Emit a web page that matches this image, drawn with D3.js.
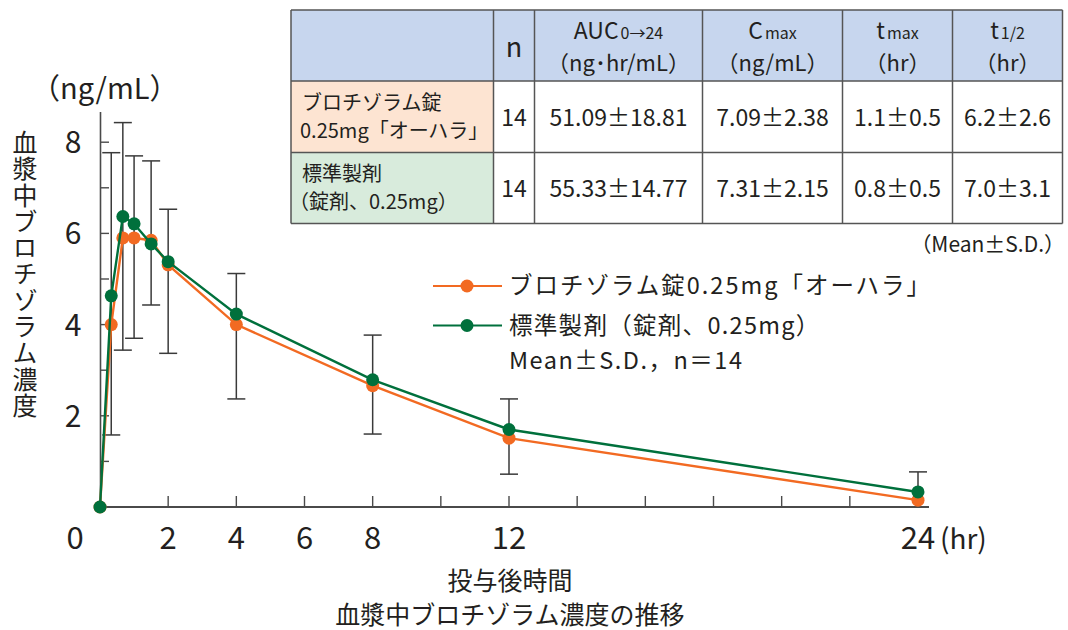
<!DOCTYPE html>
<html>
<head>
<meta charset="utf-8">
<script src="https://cdn.jsdelivr.net/npm/d3@7"></script>
<style>
  body { margin: 0; background: #fff; }
  text { font-family: "Noto Sans CJK JP", "Noto Sans", sans-serif; fill: #231f20; }
</style>
</head>
<body>
<svg id="chart" width="1068" height="630"></svg>
<script>
// sampling times (hr)
const times = [0, 0.33, 0.67, 1, 1.5, 2, 4, 8, 12, 24];
// ブロチゾラム錠0.25mg「オーハラ」
const testMeans = [0, 4.0, 5.9, 5.9, 5.85, 5.31, 4.0, 2.66, 1.51, 0.15];
// 標準製剤
const refMeans = [0, 4.63, 6.37, 6.21, 5.77, 5.38, 4.23, 2.79, 1.70, 0.33];
// error bars (as drawn)
const errTimes = [0.33, 0.67, 1, 1.5, 2, 4, 8, 12, 24];
const errHigh = [7.77, 8.43, 7.70, 7.59, 6.53, 5.12, 3.77, 2.37, 0.77];
const errLow = [1.58, 3.44, 3.70, 4.43, 3.37, 2.37, 1.60, 0.72, null];

const xTicks = [2, 4, 6, 8, 10, 12, 14, 16, 18, 20, 22, 24];
const xTickLabels = [0, 2, 4, 6, 8, 12, 24];
const yTicks = [1, 2, 3, 4, 5, 6, 7, 8];
const yTickLabels = [2, 4, 6, 8];

const legendLabels = ["ブロチゾラム錠0.25mg「オーハラ」", "標準製剤（錠剤、0.25mg）"];
const legendNote = "Mean±S.D.，n＝14";

const tableRowLabels = [["ブロチゾラム錠", "0.25mg「オーハラ」"], ["標準製剤", "（錠剤、0.25mg）"]];
const tableN = ["14", "14"];
const tableAUC = ["51.09±18.81", "55.33±14.77"];
const tableCmax = ["7.09±2.38", "7.31±2.15"];
const tableTmax = ["1.1±0.5", "0.8±0.5"];
const tableThalf = ["6.2±2.6", "7.0±3.1"];

const orange = "#f26a22", green = "#00703c", axisCol = "#4a4a4a";

const svg = d3.select("#chart");
const x = d3.scaleLinear().domain([0, 24]).range([100, 918]);
const y = d3.scaleLinear().domain([0, 8]).range([507, 142.2]);

// ---- axes ----
svg.append("line").attr("x1", 100.5).attr("x2", 100.5).attr("y1", 112).attr("y2", 507)
  .attr("stroke", axisCol).attr("stroke-width", 1.6);
svg.append("line").attr("x1", 100).attr("x2", 929).attr("y1", 507).attr("y2", 507)
  .attr("stroke", axisCol).attr("stroke-width", 1.8);

svg.selectAll(".ytick").data(yTicks).enter().append("line")
  .attr("x1", 100).attr("x2", 109)
  .attr("y1", d => y(d)).attr("y2", d => y(d))
  .attr("stroke", axisCol).attr("stroke-width", 1.4);
svg.selectAll(".ylab").data(yTickLabels).enter().append("text")
  .attr("x", 73).attr("y", d => y(d) + 11)
  .attr("text-anchor", "middle").attr("font-size", 30)
  .text(d => d);

svg.selectAll(".xtick").data(xTicks).enter().append("line")
  .attr("x1", d => x(d)).attr("x2", d => x(d))
  .attr("y1", 507).attr("y2", 496)
  .attr("stroke", axisCol).attr("stroke-width", 1.4);
svg.selectAll(".xlab").data(xTickLabels).enter().append("text")
  .attr("x", d => d === 0 ? 75 : x(d)).attr("y", 549)
  .attr("text-anchor", "middle").attr("font-size", 31)
  .text(d => d);
svg.append("text").attr("x", 940).attr("y", 549).attr("font-size", 28).text("(hr)");

svg.append("text").attr("x", 31).attr("y", 99).attr("font-size", 29).text("（ng/mL）");

// vertical y title
svg.append("text").attr("x", 25).attr("y", 130)
  .style("writing-mode", "vertical-rl")
  .attr("font-size", 25).attr("letter-spacing", 1.3)
  .text("血漿中ブロチゾラム濃度");

// bottom titles
svg.append("text").attr("x", 510).attr("y", 590).attr("text-anchor", "middle")
  .attr("font-size", 25).text("投与後時間");
svg.append("text").attr("x", 510).attr("y", 624).attr("text-anchor", "middle")
  .attr("font-size", 25).text("血漿中ブロチゾラム濃度の推移");

// ---- error bars ----
const eb = svg.append("g").attr("stroke", "#3a3a3a").attr("stroke-width", 1.5);
errTimes.forEach((t, i) => {
  const lo = errLow[i] === null ? refMeans[times.indexOf(t)] : errLow[i];
  eb.append("line").attr("x1", x(t)).attr("x2", x(t)).attr("y1", y(errHigh[i])).attr("y2", y(lo));
  eb.append("line").attr("x1", x(t) - 9).attr("x2", x(t) + 9).attr("y1", y(errHigh[i])).attr("y2", y(errHigh[i]));
  if (errLow[i] !== null)
    eb.append("line").attr("x1", x(t) - 9).attr("x2", x(t) + 9).attr("y1", y(errLow[i])).attr("y2", y(errLow[i]));
});

// ---- series ----
const line = d3.line().x(d => x(d[0])).y(d => y(d[1]));
[[testMeans, orange], [refMeans, green]].forEach(([vals, col]) => {
  const pts = times.map((t, i) => [t, vals[i]]);
  svg.append("path").datum(pts).attr("d", line)
    .attr("fill", "none").attr("stroke", col).attr("stroke-width", 2.4);
  svg.append("g").selectAll("circle").data(pts).enter().append("circle")
    .attr("cx", d => x(d[0])).attr("cy", d => y(d[1])).attr("r", 6.5)
    .attr("fill", col);
});

// ---- legend ----
const legendSpacing = [2, 1.3];
[orange, green].forEach((col, i) => {
  const ly = 286 + i * 39.5;
  svg.append("line").attr("x1", 433).attr("x2", 502).attr("y1", ly).attr("y2", ly)
    .attr("stroke", col).attr("stroke-width", 2.2);
  svg.append("circle").attr("cx", 467).attr("cy", ly).attr("r", 6.5).attr("fill", col);
  svg.append("text").attr("x", 509).attr("y", ly + 8).attr("font-size", 23.5)
    .attr("letter-spacing", legendSpacing[i]).text(legendLabels[i]);
});
svg.append("text").attr("x", 509).attr("y", 369).attr("font-size", 23.5)
  .attr("letter-spacing", 1.5).text(legendNote);

// ---- table ----
const colX = [291, 493.5, 534.5, 702.5, 842.5, 952.5, 1062.5];
const rowY = [10, 81, 152.5, 223.5];
const tbl = svg.append("g");
tbl.append("rect").attr("x", colX[0]).attr("y", rowY[0]).attr("width", colX[6] - colX[0])
  .attr("height", rowY[1] - rowY[0]).attr("fill", "#c7d6ee");
tbl.append("rect").attr("x", colX[0]).attr("y", rowY[1]).attr("width", colX[1] - colX[0])
  .attr("height", rowY[2] - rowY[1]).attr("fill", "#fde4d2");
tbl.append("rect").attr("x", colX[0]).attr("y", rowY[2]).attr("width", colX[1] - colX[0])
  .attr("height", rowY[3] - rowY[2]).attr("fill", "#d8ebdc");
const gridCol = "#555";
colX.forEach(cx => tbl.append("line").attr("x1", cx).attr("x2", cx).attr("y1", rowY[0]).attr("y2", rowY[3])
  .attr("stroke", gridCol).attr("stroke-width", 1.5));
rowY.forEach(ry => tbl.append("line").attr("x1", colX[0]).attr("x2", colX[6]).attr("y1", ry).attr("y2", ry)
  .attr("stroke", gridCol).attr("stroke-width", 1.5));

const mid = i => (colX[i] + colX[i + 1]) / 2;
// header
tbl.append("text").attr("x", mid(1)).attr("y", 57).attr("text-anchor", "middle").attr("font-size", 27).text("n");
const heads = [["AUC", "0→24", "（ng･hr/mL）"], ["C", "max", "（ng/mL）"], ["t", "max", "（hr）"], ["t", "1/2", "（hr）"]];
heads.forEach((h, k) => {
  const t1 = tbl.append("text").attr("x", mid(k + 2)).attr("y", 39).attr("text-anchor", "middle").attr("font-size", 23);
  t1.append("tspan").text(h[0]);
  t1.append("tspan").attr("font-size", 16).attr("dx", 2).text(h[1]);
  tbl.append("text").attr("x", mid(k + 2)).attr("y", 71).attr("text-anchor", "middle").attr("font-size", 22).text(h[2]);
});
// body rows
const cols = [tableN, tableAUC, tableCmax, tableTmax, tableThalf];
const labelX = [[302, 300], [302, 289]];
[0, 1].forEach(r => {
  const cy = (rowY[r + 1] + rowY[r + 2]) / 2;
  tbl.append("text").attr("x", labelX[r][0]).attr("y", cy - 7).attr("font-size", 20).text(tableRowLabels[r][0]);
  tbl.append("text").attr("x", labelX[r][1]).attr("y", cy + 21).attr("font-size", 20).text(tableRowLabels[r][1]);
  cols.forEach((c, k) => {
    tbl.append("text").attr("x", mid(k + 1)).attr("y", cy + 9).attr("text-anchor", "middle")
      .attr("font-size", 23).text(c[r]);
  });
});
svg.append("text").attr("x", 1065).attr("y", 252).attr("text-anchor", "end").attr("font-size", 21).text("（Mean±S.D.）");
</script>
</body>
</html>
